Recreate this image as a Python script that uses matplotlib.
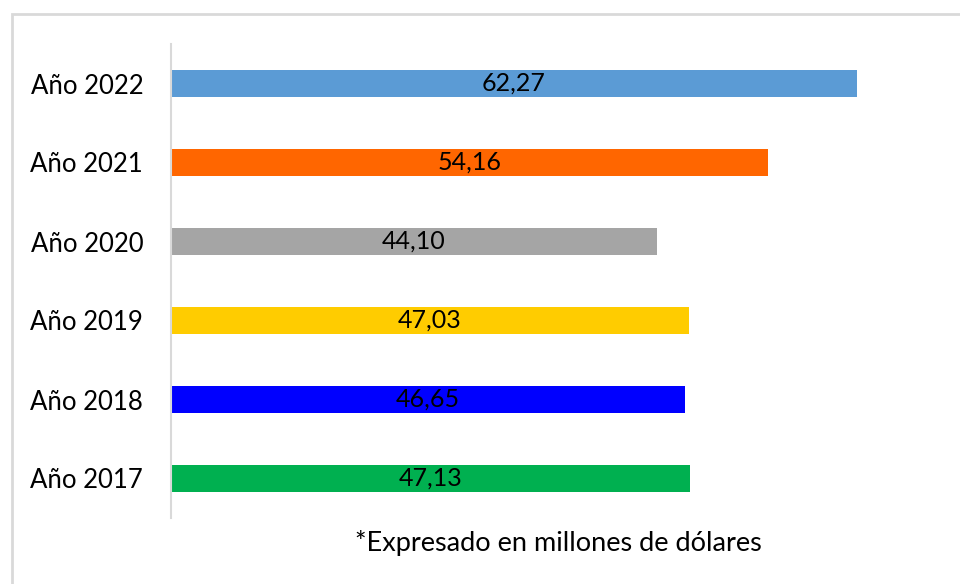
import matplotlib.pyplot as plt
from matplotlib.patches import Rectangle

# datos
anios = ['Año 2017', 'Año 2018', 'Año 2019', 'Año 2020', 'Año 2021', 'Año 2022']
valores = [47.13, 46.65, 47.03, 44.10, 54.16, 62.27]
colores = ['#00B050', '#0000FF', '#FFCC00', '#A5A5A5', '#FF6600', '#5B9BD5']

plt.rcParams['font.family'] = ['Lato', 'DejaVu Sans']

fig = plt.figure(figsize=(9.6, 5.84), dpi=100)
ax = fig.add_axes([171/960, 1 - 518/584, 771/960, 474/584])

pos = range(len(anios))
barras = ax.barh(pos, valores, height=0.34, color=colores)
for b, v in zip(barras, valores):
    ax.text(b.get_width() / 2, b.get_y() + b.get_height() / 2,
            f'{v:.2f}'.replace('.', ','), ha='center', va='center',
            fontsize=18, color='black')

ax.set_xlim(0, 70)
ax.set_ylim(-0.5, 5.5)
ax.set_yticks(list(pos))
ax.set_yticklabels(anios, fontsize=18.5)
ax.tick_params(axis='y', length=0, pad=20)
ax.set_xticks([])
for s in ['top', 'right', 'bottom']:
    ax.spines[s].set_visible(False)
ax.spines['left'].set_color('#d9d9d9')
ax.spines['left'].set_linewidth(1.5)

fig.text(558/960, 1 - 543/584, '*Expresado en millones de dólares',
         ha='center', va='center', fontsize=19.5)

# borde del gráfico
fig.patches.append(Rectangle((12/960, -0.1), 1.2, 1 - 14/584 + 0.1,
                             transform=fig.transFigure, fill=False,
                             edgecolor='#d9d9d9', linewidth=2))

fig.savefig('out.png', dpi=100)
